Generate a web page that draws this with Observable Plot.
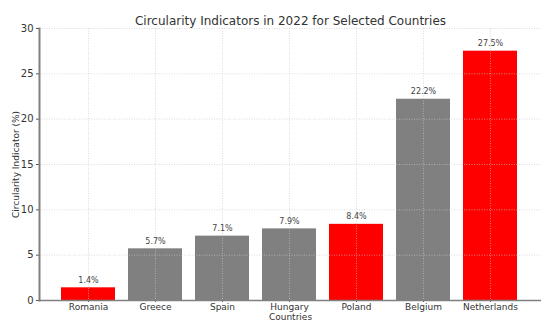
<!DOCTYPE html>
<html>
<head>
<meta charset="utf-8">
<script src="https://cdn.jsdelivr.net/npm/d3@7"></script>
<script src="https://cdn.jsdelivr.net/npm/@observablehq/plot@0.6"></script>
<style>
  html, body { margin: 0; padding: 0; background: #fff; }
  #chart svg { display: block; }
</style>
</head>
<body>
<div id="chart"></div>
<script>
const countries = ["Romania", "Greece", "Spain", "Hungary", "Poland", "Belgium", "Netherlands"];
const values = [1.4, 5.7, 7.1, 7.9, 8.4, 22.2, 27.5];
const barColors = ["#ff0000", "#808080", "#808080", "#808080", "#ff0000", "#808080", "#ff0000"];
const yTicks = [0, 5, 10, 15, 20, 25, 30];
const title = "Circularity Indicators in 2022 for Selected Countries";
const xLabel = "Countries";
const yLabel = "Circularity Indicator (%)";

const data = countries.map((c, i) => ({country: c, value: values[i], color: barColors[i]}));

const W = 550, H = 331;
const mL = 39, mR = 9, mT = 28, mB = 31;

const chart = Plot.plot({
  width: W,
  height: H,
  marginLeft: mL,
  marginRight: mR,
  marginTop: mT,
  marginBottom: mB,
  style: {fontFamily: "DejaVu Sans", color: "#333", background: "#fff", overflow: "visible"},
  x: {domain: countries, range: [54.5, 523.5], paddingInner: 0.2, paddingOuter: 0.1, label: null},
  y: {domain: [0, 30], label: null},
  marks: [
    Plot.barY(data, {x: "country", y: "value", fill: "color"}),
    Plot.gridY(yTicks, {stroke: "#c8c8c8", strokeOpacity: 0.8, strokeDasharray: "1,1.5", strokeWidth: 0.8}),
    Plot.gridX(countries, {stroke: "#c8c8c8", strokeOpacity: 0.8, strokeDasharray: "1,1.5", strokeWidth: 0.8}),
    Plot.axisY(yTicks, {tickSize: 3, tickPadding: 3, fontSize: 10, stroke: "#555", label: null}),
    Plot.axisX({tickSize: 2, tickPadding: 1, fontSize: 9, stroke: "#555", label: null}),
    Plot.ruleY([0], {stroke: "#808080", strokeWidth: 1.5}),
    Plot.frame({anchor: "left", stroke: "#808080", strokeWidth: 2}),
    Plot.text(data, {x: "country", y: "value", text: d => d.value.toFixed(1) + "%", lineAnchor: "bottom", dy: -5, fontSize: 8, fill: "#444"}),
    Plot.text([title], {frameAnchor: "top", lineAnchor: "bottom", dy: -4, fontSize: 12, fill: "#333"}),
    Plot.text([xLabel], {frameAnchor: "bottom", lineAnchor: "top", dy: 13, fontSize: 9, fill: "#333"}),
    Plot.text([yLabel], {frameAnchor: "left", textAnchor: "middle", rotate: -90, dx: -23, fontSize: 9, fill: "#333"})
  ]
});
document.getElementById("chart").appendChild(chart);
</script>
</body>
</html>
